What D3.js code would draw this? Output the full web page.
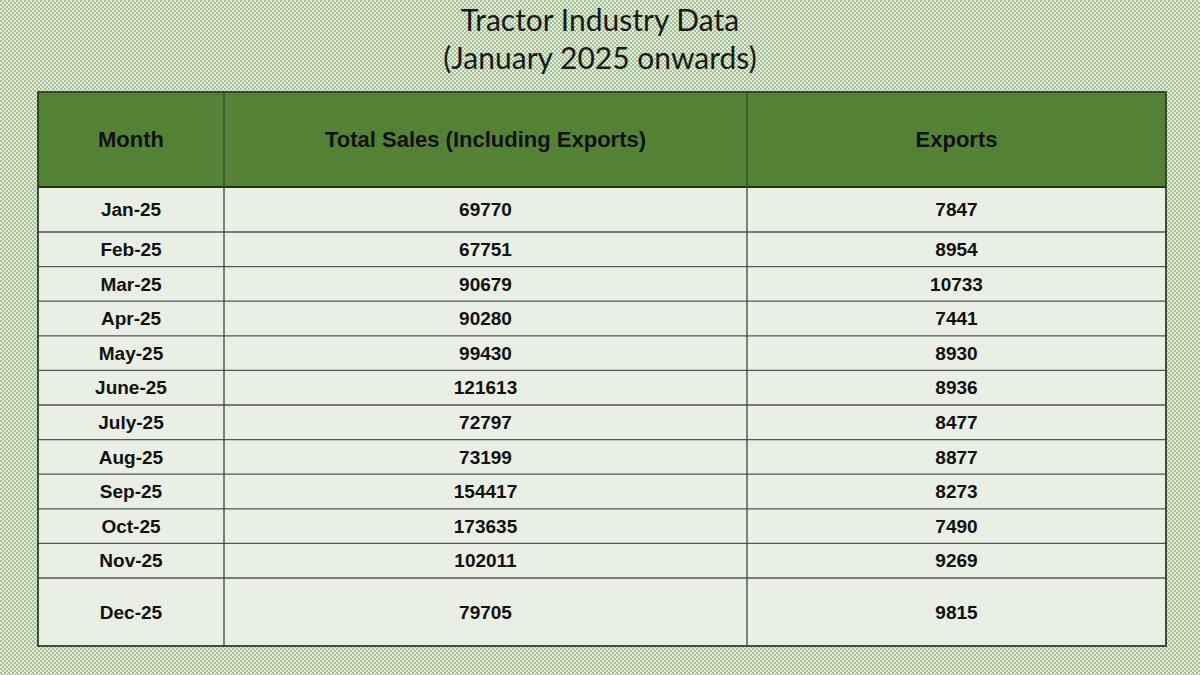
<!DOCTYPE html>
<html><head><meta charset="utf-8">
<script src="https://cdn.jsdelivr.net/npm/d3@7"></script>
<style>body{margin:0;}svg{display:block;}</style>
</head><body><svg id="c" width="1200" height="675"></svg>
<script>
const titleLines = ["Tractor Industry Data", "(January 2025 onwards)"];
const headers = ["Month", "Total Sales (Including Exports)", "Exports"];
const months = ["Jan-25","Feb-25","Mar-25","Apr-25","May-25","June-25","July-25","Aug-25","Sep-25","Oct-25","Nov-25","Dec-25"];
const totalSales = [69770,67751,90679,90280,99430,121613,72797,73199,154417,173635,102011,79705];
const exportsVals = [7847,8954,10733,7441,8930,8936,8477,8877,8273,7490,9269,9815];

(function(){
const svg = d3.select("#c");
const defs = svg.append("defs");
const pat = defs.append("pattern").attr("id","chk").attr("width",4).attr("height",4).attr("patternUnits","userSpaceOnUse");
pat.append("rect").attr("width",4).attr("height",4).attr("fill","#e4ecdc");
pat.append("rect").attr("width",2).attr("height",2).attr("fill","#a3bf93");
pat.append("rect").attr("x",2).attr("y",2).attr("width",2).attr("height",2).attr("fill","#a3bf93");
svg.append("rect").attr("width",1200).attr("height",675).attr("fill","url(#chk)");

svg.selectAll("text.title").data(titleLines).join("text")
  .attr("x",600).attr("y",(d,i)=>31+i*38).attr("text-anchor","middle")
  .attr("font-family","Lato, 'Open Sans', sans-serif").attr("font-size",30).attr("fill","#1a1a1a").text(d=>d);

const left=38, right=1166, tTop=92, headBottom=187, bottom=646;
const colX = [left, 224, 747, right];
const rowWeights = months.map((m,i)=> i===0?45 : (i===months.length-1?68:34.6));
const totalW = d3.sum(rowWeights);
const yScale = d3.scaleLinear().domain([0,totalW]).range([headBottom,bottom]);
let acc=0; const rowB=[0];
rowWeights.forEach(w=>{acc+=w;rowB.push(acc);});

svg.append("rect").attr("x",left).attr("y",tTop).attr("width",right-left).attr("height",headBottom-tTop).attr("fill","#548235");
svg.append("rect").attr("x",left).attr("y",headBottom).attr("width",right-left).attr("height",bottom-headBottom).attr("fill","#e9efe5");

const g = svg.append("g").attr("stroke","#3a4a35").attr("stroke-width",1.3);
rowB.slice(1,-1).forEach(b=>g.append("line").attr("x1",left).attr("x2",right).attr("y1",yScale(b)).attr("y2",yScale(b)).attr("stroke","#555"));
g.append("line").attr("x1",left).attr("x2",right).attr("y1",headBottom).attr("y2",headBottom).attr("stroke","#1e3514").attr("stroke-width",2);
colX.slice(1,-1).forEach(x=>g.append("line").attr("x1",x).attr("x2",x).attr("y1",tTop).attr("y2",bottom));
svg.append("rect").attr("x",left).attr("y",tTop).attr("width",right-left).attr("height",bottom-tTop).attr("fill","none").attr("stroke","#2f3f2a").attr("stroke-width",1.8);

const cx = i=>(colX[i]+colX[i+1])/2;
svg.selectAll("text.h").data(headers).join("text")
  .attr("x",(d,i)=>cx(i)).attr("y",(tTop+headBottom)/2).attr("dy","0.35em").attr("text-anchor","middle")
  .attr("font-family","'Liberation Sans', Arial, sans-serif").attr("font-weight","bold").attr("font-size",22).attr("fill","#111").text(d=>d);

const rows = months.map((m,i)=>[m,totalSales[i],exportsVals[i]]);
rows.forEach((r,i)=>{
  const yc = yScale((rowB[i]+rowB[i+1])/2);
  r.forEach((v,j)=>svg.append("text").attr("x",cx(j)).attr("y",yc).attr("dy","0.35em").attr("text-anchor","middle")
    .attr("font-family","'Liberation Sans', Arial, sans-serif").attr("font-weight","bold").attr("font-size",19).attr("fill","#111").text(v));
});
})();
</script></body></html>
